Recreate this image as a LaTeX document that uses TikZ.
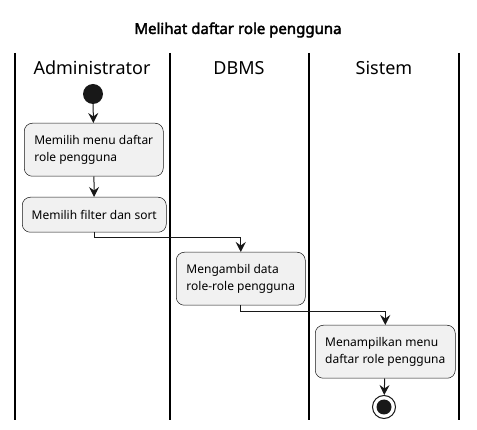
\documentclass[tikz,border=0pt]{standalone}
\usepackage{fontspec}
\setmainfont{Noto Sans}[AutoFakeBold=2.5]
\usetikzlibrary{arrows.meta}
\definecolor{boxfill}{HTML}{F1F1F1}
\definecolor{boxline}{HTML}{181818}
\begin{document}
\begin{tikzpicture}[x=1pt,y=-1pt,
  act/.style={draw=boxline,fill=boxfill,rounded corners=8pt,line width=0.5pt,align=left,font=\fontsize{12}{17}\selectfont,inner xsep=0pt,inner ysep=0pt,anchor=north west},
  lane/.style={line width=1.3pt,black},
  flow/.style={line width=1pt,draw=boxline,-{Stealth[length=10pt,width=10pt,inset=3.5pt]}},
  hdr/.style={font=\fontsize{18}{20}\selectfont}]
\useasboundingbox (0,0) rectangle (477,430);
\node[font=\bfseries\fontsize{15}{18}\selectfont] (title) at (238,30) {Melihat daftar role pengguna};
\draw[lane] (15,53) -- (15,420);
\draw[lane] (170,53) -- (170,420);
\draw[lane] (309,53) -- (309,420);
\draw[lane] (459,53) -- (459,420);
\node[hdr] (h1) at (92,68) {Administrator};
\node[hdr] (h2) at (239,68) {DBMS};
\node[hdr] (h3) at (384,68) {Sistem};
\node[circle,fill=boxline,minimum size=20pt,inner sep=0pt] (start) at (93,94) {};
\node[act,minimum width=139pt,minimum height=53pt] (a1) at (24,123) {Memilih menu daftar\\role pengguna};
\node[act,minimum width=144pt,minimum height=35pt,align=center] (a2) at (22,197) {Memilih filter dan sort};
\node[act,minimum width=129pt,minimum height=53pt] (a3) at (176,252) {Mengambil data\\role-role pengguna};
\node[act,minimum width=140pt,minimum height=53pt] (a4) at (315,325) {Menampilkan menu\\daftar role pengguna};
\node[circle,draw=boxline,line width=1pt,minimum size=23pt,inner sep=0pt] (end) at (384,407) {};
\node[circle,fill=boxline,minimum size=15pt,inner sep=0pt] at (end) {};
\draw[flow] (start) -- (a1);
\draw[flow] (a1) -- (a2);
\draw[flow] (a2.south) -- ++(0,5) -| (a3.north);
\draw[flow] (a3.south) -- ++(0,6) -| (a4.north);
\draw[flow] (a4) -- (end);
\end{tikzpicture}
\end{document}
